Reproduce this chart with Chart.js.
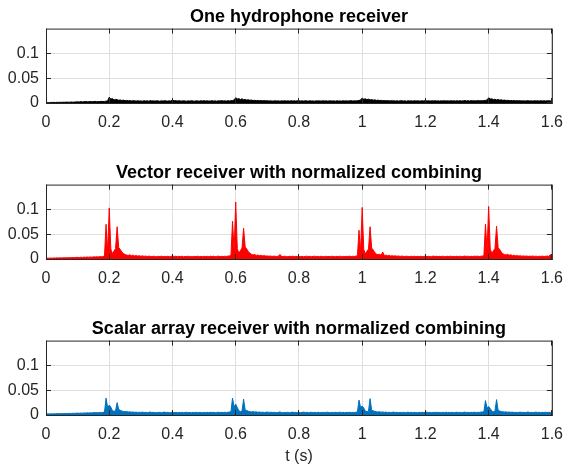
<!DOCTYPE html>
<html>
<head>
<meta charset="utf-8">
<script src="https://cdn.jsdelivr.net/npm/chart.js@4.4.1/dist/chart.umd.min.js"></script>
<style>
  html, body { margin: 0; padding: 0; background: #fff; }
  #wrap { position: relative; width: 573px; height: 472px; }
  #wrap canvas { position: absolute; left: 0; top: 0; }
</style>
</head>
<body>
<div id="wrap">
  <canvas id="hydroChart" width="573" height="472"></canvas>
  <canvas id="vectorChart" width="573" height="472"></canvas>
  <canvas id="scalarChart" width="573" height="472"></canvas>
</div>
<script>
// samples every 5 ms, 0 .. 1.6 s (one row = 0.1 s)
const sampleStep = 0.005;
const xTicks = [0, 0.2, 0.4, 0.6, 0.8, 1, 1.2, 1.4, 1.6];
const yTicks = [0, 0.05, 0.1];

const hydrophone = [
  .0008,.0010,.0009,.0012,.0011,.0013,.0010,.0014,.0012,.0015,.0013,.0016,.0014,.0018,.0015,.0017,.0020,.0016,.0019,.0022,
  .0024,.0019,.0028,.0022,.0026,.0030,.0023,.0027,.0031,.0025,.0029,.0033,.0026,.0030,.0028,.0034,.0029,.0032,.0036,.0045,
  .0115,.0078,.0092,.0060,.0072,.0068,.0055,.0062,.0050,.0058,.0046,.0052,.0044,.0049,.0041,.0047,.0043,.0039,.0045,.0040,
  .0042,.0037,.0046,.0039,.0044,.0036,.0048,.0040,.0043,.0038,.0045,.0041,.0036,.0044,.0039,.0047,.0042,.0038,.0043,.0040,
  .0058,.0044,.0049,.0040,.0046,.0042,.0038,.0045,.0041,.0036,.0043,.0039,.0046,.0040,.0037,.0044,.0041,.0038,.0045,.0042,
  .0047,.0040,.0044,.0038,.0042,.0046,.0039,.0043,.0037,.0045,.0041,.0048,.0040,.0044,.0039,.0046,.0042,.0045,.0050,.0062,
  .0105,.0082,.0088,.0070,.0085,.0064,.0072,.0058,.0066,.0054,.0060,.0049,.0055,.0047,.0052,.0045,.0050,.0043,.0048,.0044,
  .0046,.0040,.0044,.0038,.0042,.0045,.0039,.0043,.0037,.0044,.0040,.0046,.0039,.0043,.0038,.0045,.0041,.0044,.0039,.0043,
  .0045,.0040,.0043,.0038,.0046,.0041,.0039,.0044,.0040,.0042,.0037,.0045,.0041,.0043,.0038,.0046,.0040,.0044,.0039,.0042,
  .0044,.0039,.0043,.0037,.0045,.0040,.0042,.0038,.0046,.0041,.0044,.0039,.0043,.0047,.0040,.0045,.0042,.0046,.0050,.0060,
  .0100,.0075,.0085,.0068,.0078,.0062,.0070,.0057,.0064,.0052,.0058,.0048,.0054,.0046,.0050,.0044,.0048,.0042,.0046,.0043,
  .0045,.0040,.0044,.0038,.0043,.0046,.0039,.0044,.0037,.0045,.0041,.0043,.0038,.0046,.0040,.0044,.0039,.0042,.0045,.0041,
  .0048,.0041,.0045,.0039,.0044,.0042,.0046,.0040,.0043,.0038,.0045,.0041,.0047,.0040,.0044,.0039,.0046,.0042,.0044,.0040,
  .0045,.0041,.0047,.0040,.0044,.0049,.0042,.0046,.0040,.0048,.0043,.0046,.0041,.0049,.0044,.0047,.0043,.0050,.0052,.0062,
  .0104,.0080,.0086,.0068,.0076,.0063,.0070,.0058,.0064,.0053,.0059,.0049,.0055,.0047,.0051,.0045,.0049,.0043,.0047,.0044,
  .0046,.0041,.0045,.0039,.0044,.0047,.0040,.0045,.0038,.0046,.0042,.0044,.0039,.0047,.0041,.0045,.0040,.0043,.0046,.0042,
  .0044
];

const vectorNorm = [
  .0015,.0018,.0016,.0020,.0017,.0021,.0019,.0023,.0020,.0024,.0022,.0026,.0023,.0027,.0025,.0029,.0026,.0030,.0028,.0032,
  .0033,.0029,.0036,.0031,.0038,.0034,.0040,.0035,.0042,.0037,.0044,.0039,.0046,.0041,.0048,.0043,.0050,.0062,.0700,.0150,
  .1030,.0200,.0110,.0160,.0210,.0650,.0230,.0190,.0140,.0110,.0090,.0080,.0072,.0085,.0066,.0078,.0060,.0070,.0058,.0066,
  .0055,.0064,.0052,.0060,.0050,.0058,.0053,.0047,.0056,.0050,.0045,.0054,.0049,.0057,.0046,.0052,.0048,.0055,.0047,.0051,
  .0062,.0050,.0055,.0047,.0053,.0049,.0056,.0046,.0052,.0048,.0055,.0047,.0051,.0045,.0053,.0049,.0056,.0048,.0052,.0046,
  .0054,.0048,.0053,.0046,.0057,.0050,.0055,.0047,.0052,.0058,.0049,.0054,.0047,.0056,.0051,.0058,.0062,.0075,.0760,.0160,
  .1150,.0210,.0120,.0170,.0220,.0620,.0240,.0200,.0150,.0115,.0095,.0082,.0090,.0072,.0080,.0066,.0074,.0061,.0069,.0058,
  .0063,.0055,.0060,.0052,.0058,.0054,.0050,.0057,.0092,.0053,.0049,.0056,.0051,.0047,.0054,.0050,.0057,.0048,.0053,.0049,
  .0055,.0048,.0053,.0046,.0051,.0057,.0049,.0054,.0047,.0052,.0056,.0048,.0053,.0046,.0055,.0050,.0047,.0054,.0049,.0052,
  .0048,.0055,.0050,.0046,.0053,.0049,.0056,.0047,.0052,.0048,.0054,.0050,.0057,.0049,.0055,.0051,.0058,.0065,.0580,.0140,
  .1040,.0190,.0105,.0155,.0200,.0650,.0220,.0180,.0130,.0100,.0085,.0095,.0075,.0140,.0068,.0080,.0064,.0072,.0060,.0067,
  .0058,.0064,.0055,.0061,.0052,.0059,.0054,.0050,.0057,.0051,.0048,.0055,.0050,.0056,.0047,.0053,.0049,.0055,.0048,.0052,
  .0056,.0049,.0054,.0047,.0052,.0058,.0050,.0055,.0048,.0053,.0049,.0056,.0051,.0047,.0054,.0050,.0057,.0048,.0053,.0049,
  .0055,.0050,.0056,.0048,.0053,.0059,.0051,.0056,.0049,.0054,.0050,.0057,.0052,.0058,.0050,.0055,.0060,.0068,.0700,.0160,
  .1060,.0200,.0115,.0165,.0210,.0660,.0230,.0190,.0140,.0105,.0090,.0082,.0095,.0075,.0086,.0068,.0078,.0063,.0070,.0060,
  .0066,.0057,.0063,.0055,.0060,.0053,.0058,.0054,.0061,.0052,.0057,.0050,.0056,.0052,.0058,.0051,.0055,.0060,.0053,.0088,
  .0062
];

const scalarNorm = [
  .0020,.0023,.0021,.0025,.0022,.0026,.0024,.0028,.0025,.0029,.0027,.0031,.0028,.0032,.0030,.0034,.0031,.0035,.0033,.0036,
  .0038,.0034,.0040,.0036,.0042,.0038,.0044,.0040,.0046,.0042,.0048,.0044,.0050,.0045,.0052,.0047,.0053,.0058,.0340,.0150,
  .0200,.0160,.0090,.0075,.0085,.0250,.0110,.0095,.0080,.0072,.0065,.0070,.0060,.0066,.0056,.0062,.0053,.0059,.0050,.0057,
  .0052,.0058,.0049,.0055,.0047,.0053,.0061,.0048,.0054,.0046,.0052,.0049,.0056,.0047,.0053,.0058,.0049,.0055,.0047,.0052,
  .0058,.0048,.0053,.0046,.0052,.0049,.0055,.0047,.0051,.0056,.0048,.0053,.0046,.0052,.0049,.0055,.0047,.0053,.0050,.0046,
  .0053,.0048,.0054,.0047,.0056,.0050,.0053,.0046,.0052,.0057,.0049,.0054,.0047,.0055,.0050,.0056,.0060,.0068,.0340,.0160,
  .0220,.0150,.0085,.0070,.0080,.0320,.0100,.0090,.0075,.0068,.0062,.0070,.0058,.0064,.0055,.0061,.0052,.0058,.0050,.0056,
  .0060,.0052,.0057,.0049,.0055,.0051,.0047,.0054,.0062,.0050,.0046,.0053,.0049,.0056,.0047,.0052,.0058,.0049,.0054,.0048,
  .0053,.0047,.0052,.0058,.0049,.0054,.0047,.0051,.0056,.0048,.0053,.0046,.0055,.0050,.0047,.0054,.0049,.0052,.0057,.0050,
  .0047,.0053,.0049,.0055,.0048,.0052,.0057,.0049,.0054,.0047,.0053,.0050,.0056,.0048,.0054,.0050,.0057,.0063,.0300,.0150,
  .0180,.0140,.0080,.0068,.0078,.0330,.0095,.0085,.0072,.0065,.0060,.0067,.0056,.0062,.0054,.0059,.0051,.0057,.0049,.0055,
  .0058,.0050,.0055,.0048,.0053,.0049,.0056,.0047,.0052,.0057,.0049,.0054,.0047,.0053,.0050,.0046,.0054,.0049,.0055,.0048,
  .0052,.0058,.0049,.0054,.0047,.0053,.0050,.0056,.0048,.0053,.0046,.0055,.0050,.0057,.0048,.0053,.0049,.0055,.0047,.0052,
  .0056,.0049,.0054,.0047,.0053,.0058,.0050,.0055,.0048,.0054,.0051,.0057,.0049,.0055,.0052,.0058,.0061,.0066,.0290,.0140,
  .0170,.0130,.0078,.0066,.0075,.0310,.0090,.0082,.0070,.0064,.0058,.0065,.0055,.0061,.0053,.0058,.0050,.0056,.0049,.0054,
  .0058,.0050,.0056,.0048,.0054,.0061,.0049,.0055,.0047,.0053,.0058,.0050,.0056,.0048,.0054,.0050,.0057,.0049,.0055,.0052,
  .0050
];

const fontFamily = '"Liberation Sans", Arial, Helvetica, sans-serif';
const axisColor = '#262626';

// matlab style box with inward ticks
const framePlugin = {
  id: 'frame',
  afterDraw(chart) {
    const { ctx, chartArea: a, scales } = chart;
    ctx.save();
    ctx.strokeStyle = axisColor;
    ctx.lineWidth = 1;
    ctx.beginPath();
    scales.x.ticks.forEach(tk => {
      const px = Math.floor(scales.x.getPixelForValue(tk.value)) + 0.5;
      ctx.moveTo(px, a.bottom); ctx.lineTo(px, a.bottom - 5);
      ctx.moveTo(px, a.top); ctx.lineTo(px, a.top + 5);
    });
    scales.y.ticks.forEach(tk => {
      const py = Math.floor(scales.y.getPixelForValue(tk.value)) + 0.5;
      ctx.moveTo(a.left, py); ctx.lineTo(a.left + 5, py);
      ctx.moveTo(a.right, py); ctx.lineTo(a.right - 5, py);
    });
    ctx.stroke();
    ctx.strokeRect(a.left + 0.5, a.top + 0.5, a.right - a.left, a.bottom - a.top);
    ctx.restore();
  }
};

function makeChart(id, values, color, title, top, bottom, xTitle) {
  const xAxisHeight = xTitle ? 472 - bottom : 30;
  const points = values.map((v, i) => ({ x: i * sampleStep, y: v }));
  return new Chart(document.getElementById(id), {
    type: 'line',
    data: {
      datasets: [{
        data: points,
        borderColor: color,
        backgroundColor: color,
        borderWidth: 1,
        pointRadius: 0,
        fill: 'origin',
        tension: 0
      }]
    },
    options: {
      responsive: false,
      animation: false,
      devicePixelRatio: 1,
      layout: { padding: { left: 0, right: 11, top: 0, bottom: xTitle ? 0 : 472 - bottom - xAxisHeight } },
      plugins: {
        legend: { display: false },
        tooltip: { enabled: false },
        title: {
          display: true,
          text: title,
          fullSize: false,
          color: '#000',
          font: { family: fontFamily, size: 18, weight: 'bold' },
          padding: { top: top - 23, bottom: 1 }
        }
      },
      scales: {
        x: {
          type: 'linear',
          min: 0,
          max: 1.6,
          afterBuildTicks: s => { s.ticks = xTicks.map(v => ({ value: v })); },
          afterFit: s => { s.height = xAxisHeight; },
          grid: { color: '#dfdfdf', drawTicks: false },
          border: { display: false },
          ticks: {
            padding: 10, color: axisColor, maxRotation: 0, autoSkip: false,
            font: { family: fontFamily, size: 16 },
            callback: v => String(v)
          },
          title: {
            display: !!xTitle,
            text: xTitle || '',
            color: axisColor,
            font: { family: fontFamily, size: 16 },
            padding: { top: 0, bottom: 6 }
          }
        },
        y: {
          min: 0,
          max: 0.15,
          afterBuildTicks: s => { s.ticks = yTicks.map(v => ({ value: v })); },
          afterFit: s => { s.width = 46; },
          grid: { color: '#dfdfdf', drawTicks: false },
          border: { display: false },
          ticks: {
            padding: 7, color: axisColor,
            font: { family: fontFamily, size: 16 },
            callback: v => String(v)
          }
        }
      }
    },
    plugins: [framePlugin]
  });
}

document.addEventListener("DOMContentLoaded", function () {
  makeChart('hydroChart', hydrophone, '#000000', 'One hydrophone receiver', 29, 103);
  makeChart('vectorChart', vectorNorm, '#ff0000', 'Vector receiver with normalized combining', 185, 259);
  makeChart('scalarChart', scalarNorm, '#0072bd', 'Scalar array receiver with normalized combining', 341, 415, 't (s)');
});
</script>
</body>
</html>
